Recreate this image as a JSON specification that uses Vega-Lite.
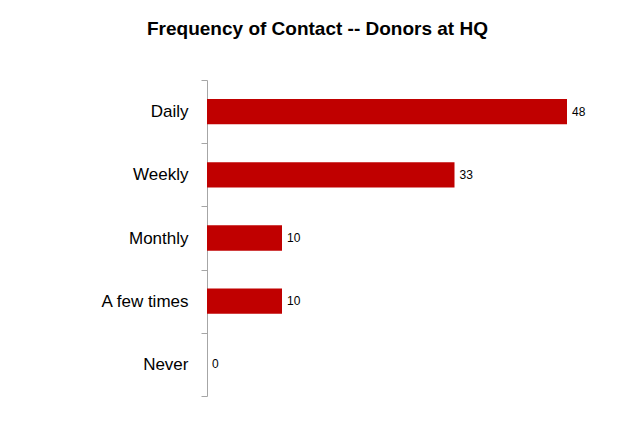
{
  "$schema": "https://vega.github.io/schema/vega-lite/v6.json",
  "autosize": "none",
  "width": 375,
  "height": 316,
  "padding": {"left": 207, "top": 80, "right": 42, "bottom": 25},
  "background": "white",
  "title": {
    "text": "Frequency of Contact -- Donors at HQ",
    "anchor": "middle",
    "dx": -77,
    "offset": 32,
    "font": "Liberation Sans",
    "fontSize": 19,
    "fontWeight": "bold",
    "color": "#000000"
  },
  "config": {"view": {"stroke": null}},
  "data": {
    "values": [
      {"category": "Daily", "count": 48},
      {"category": "Weekly", "count": 33},
      {"category": "Monthly", "count": 10},
      {"category": "A few times", "count": 10},
      {"category": "Never", "count": 0}
    ]
  },
  "encoding": {
    "y": {
      "field": "category",
      "type": "nominal",
      "sort": null,
      "scale": {"paddingInner": 0, "paddingOuter": 0},
      "axis": {
        "title": null,
        "tickBand": "extent",
        "domainColor": "#A6A6A6",
        "tickColor": "#A6A6A6",
        "tickSize": 6,
        "labelPadding": 13,
        "labelFont": "Liberation Sans",
        "labelFontSize": 17,
        "labelColor": "#000000",
        "grid": false
      }
    },
    "x": {
      "field": "count",
      "type": "quantitative",
      "scale": {"domain": [0, 50], "nice": false},
      "axis": null
    }
  },
  "layer": [
    {"mark": {"type": "bar", "color": "#C00000", "height": {"band": 0.4}}},
    {
      "mark": {"type": "text", "align": "left", "dx": 5, "font": "Liberation Sans", "fontSize": 12, "color": "#000000"},
      "encoding": {"text": {"field": "count", "type": "quantitative"}}
    }
  ]
}
